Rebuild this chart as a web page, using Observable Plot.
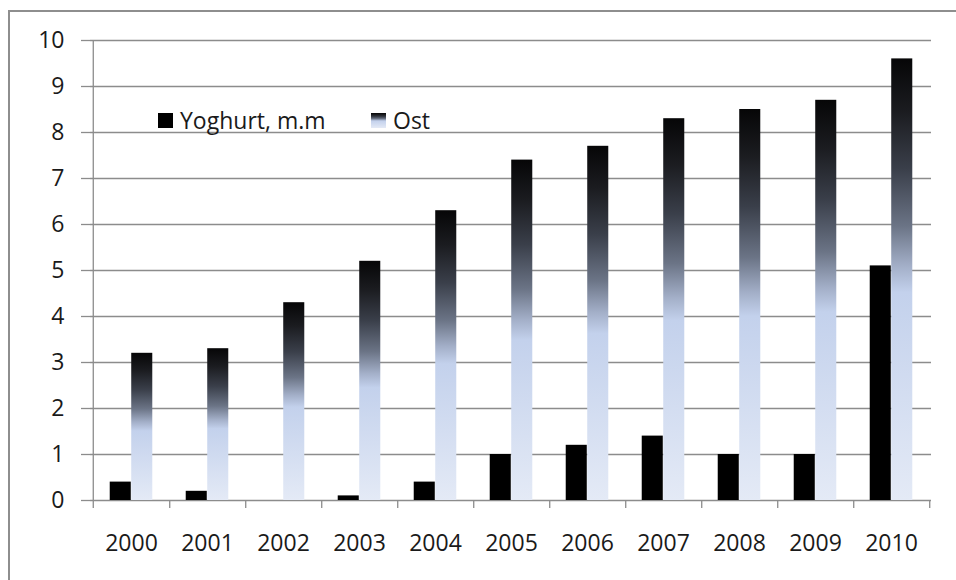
<!DOCTYPE html>
<html>
<head>
<meta charset="utf-8">
<script src="https://cdn.jsdelivr.net/npm/d3@7"></script>
<script src="https://cdn.jsdelivr.net/npm/@observablehq/plot@0.6"></script>
<style>
  html, body { margin: 0; padding: 0; background: #fff; }
  #wrap { position: relative; width: 956px; height: 580px; overflow: hidden; font-family: "Open Sans", sans-serif; }
  #border { position: absolute; left: 8px; top: 10px; width: 960px; height: 600px; border: 2px solid #8e8e8e; box-sizing: border-box; pointer-events: none; }
  .legend { position: absolute; top: 104px; font-size: 23px; color: #1a1a1a; display: flex; align-items: center; white-space: nowrap; }
  .sw { width: 15px; height: 15px; margin-right: 7px; }
</style>
</head>
<body>
<div id="wrap">
  <div id="chart"></div>
  <div id="border"></div>
</div>
<script>
const years = ["2000","2001","2002","2003","2004","2005","2006","2007","2008","2009","2010"];
const yoghurt = [0.4, 0.2, 0, 0.1, 0.4, 1.0, 1.2, 1.4, 1.0, 1.0, 5.1];
const ost = [3.2, 3.3, 4.3, 5.2, 6.3, 7.4, 7.7, 8.3, 8.5, 8.7, 9.6];
const yTicks = [0,1,2,3,4,5,6,7,8,9,10];
const seriesNames = ["Yoghurt, m.m", "Ost"];
const gradStops = [
  [0, "#060607"], [0.12, "#1b1c20"], [0.25, "#3a3f4a"], [0.38, "#6b7486"],
  [0.47, "#a3afc8"], [0.53, "#c3d1ec"], [1, "#e4eaf6"]
];

const W = 956, H = 580, mL = 90, mR = 25, mT = 40, mB = 80;
const bw = (W - mL - mR) / years.length;
const barW = 21.5;
const outer = (bw - 2 * barW) / 2;

const dataY = years.map((y, i) => ({year: y, value: yoghurt[i]}));
const dataO = years.map((y, i) => ({year: y, value: ost[i]}));
const gridColor = "#8c8c8c";

const plot = Plot.plot({
  width: W, height: H,
  marginLeft: mL, marginRight: mR, marginTop: mT, marginBottom: mB,
  style: {fontFamily: "Open Sans, sans-serif", fontSize: "23px", color: "#1a1a1a", background: "transparent"},
  x: {type: "band", domain: years, padding: 0, label: null},
  y: {domain: [0, 10], label: null},
  marks: [
    Plot.ruleY(yTicks, {y: d => d, stroke: gridColor, strokeWidth: 1.3}),
    Plot.axisY({ticks: yTicks, tickSize: 9, tickPadding: 17, stroke: gridColor, strokeWidth: 1.3, fontSize: 23, fill: "#1a1a1a", label: null}),
    Plot.axisX({tickSize: 0, tickPadding: 34, fontSize: 23, fill: "#1a1a1a", label: null}),
    Plot.barY(dataY, {x: "year", y: "value", fill: "#000", insetLeft: outer, insetRight: bw - outer - barW}),
    Plot.barY(dataO, {x: "year", y: "value", fill: "url(#ostGrad)", insetLeft: outer + barW, insetRight: outer}),
    Plot.ruleX([years[0]], {x: d => d, dx: -bw / 2, y1: 10, y2: 0, insetBottom: -8, stroke: gridColor, strokeWidth: 1.3}),
    Plot.ruleX(years, {x: d => d, dx: bw / 2, y1: 0, y2: 0, insetBottom: -8, stroke: gridColor, strokeWidth: 1.3})
  ]
});

const defs = d3.select(plot).insert("defs", ":first-child");
const lg = defs.append("linearGradient").attr("id", "ostGrad")
  .attr("x1", 0).attr("y1", 0).attr("x2", 0).attr("y2", 1);
gradStops.forEach(([o, c]) => lg.append("stop").attr("offset", o).attr("stop-color", c));

document.getElementById("chart").appendChild(plot);

// legend inside the plot area
const wrap = document.getElementById("wrap");
const lefts = [158, 371];
const swatchBg = ["#000", "linear-gradient(to bottom," + gradStops.map(([o, c]) => c + " " + (o * 100) + "%").join(",") + ")"];
seriesNames.forEach((name, i) => {
  const item = document.createElement("div");
  item.className = "legend";
  item.style.left = lefts[i] + "px";
  const sw = document.createElement("div");
  sw.className = "sw";
  sw.style.background = swatchBg[i];
  const t = document.createElement("span");
  t.textContent = name;
  item.appendChild(sw);
  item.appendChild(t);
  wrap.appendChild(item);
});
</script>
</body>
</html>
